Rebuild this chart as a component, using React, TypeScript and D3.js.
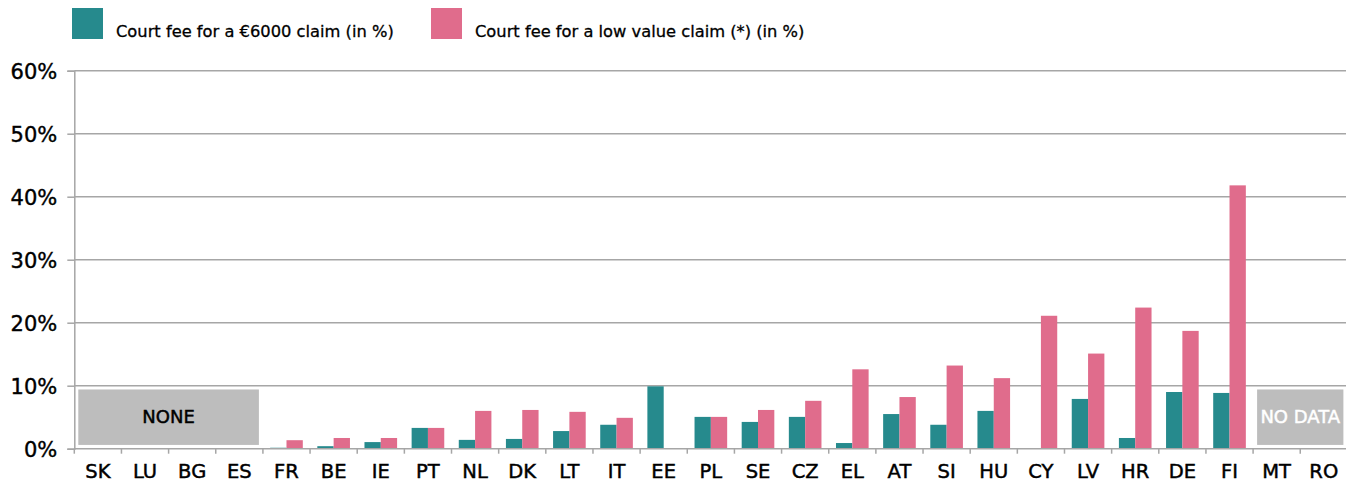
import * as d3 from "d3";
import { useEffect, useRef } from "react";

// Member states, in chart order
const countries = [
  "SK", "LU", "BG", "ES", "FR", "BE", "IE", "PT", "NL", "DK", "LT", "IT", "EE", "PL",
  "SE", "CZ", "EL", "AT", "SI", "HU", "CY", "LV", "HR", "DE", "FI", "MT", "RO",
];

// Court fee for a €6000 claim (in %) - null where there is no fee / no data
const fee6000 = [
  null, null, null, null, 0.15, 0.4, 1.05, 3.3, 1.4, 1.55, 2.8, 3.8, 9.9, 5.05,
  4.25, 5.05, 0.9, 5.5, 3.8, 6.0, 0, 7.9, 1.7, 9.0, 8.85, null, null,
];

// Court fee for a low value claim (*) (in %)
const feeLow = [
  null, null, null, null, 1.35, 1.7, 1.7, 3.3, 6.0, 6.15, 5.85, 4.9, 0, 5.05,
  6.15, 7.6, 12.6, 8.2, 13.2, 11.2, 21.1, 15.1, 22.4, 18.7, 41.8, null, null,
];

const yTicks = [0, 10, 20, 30, 40, 50, 60];

const seriesNames = ["Court fee for a €6000 claim (in %)", "Court fee for a low value claim (*) (in %)"];
const seriesColors = ["#268a8d", "#e06c8c"];

// Grey boxes spanning countries without values
const noteBoxes = [
  { from: "SK", to: "ES", label: "NONE", color: "#000" },
  { from: "MT", to: "RO", label: "NO DATA", color: "#fff" },
];

const App = () => {
  const ref = useRef<SVGSVGElement>(null);

  useEffect(() => {
    const W = 1346, H = 483;
    const left = 74.3, right = 1347.4, top = 70.7, bottom = 448.7;
    const font = "'DejaVu Sans', sans-serif";

    const svg = d3.select(ref.current);
    svg.selectAll("*").remove();
    svg.attr("width", W).attr("height", H);

    const x0 = d3.scaleBand().domain(countries).range([left, right]).padding(0);
    const x1 = d3.scaleBand().domain(["a", "b"]).range([0, x0.bandwidth()]).paddingInner(0).paddingOuter(0.445);
    const y = d3.scaleLinear().domain([0, 60]).range([bottom, top]);

    // slightly heavier text, like the original's medium-weight face
    const heavy = (sel: any, color: string, w = 0.35) =>
      sel.attr("fill", color).attr("stroke", color).attr("stroke-width", w).style("font-family", font);

    // Gridlines
    svg.append("g")
      .selectAll("line")
      .data(yTicks.slice(1))
      .join("line")
      .attr("x1", left).attr("x2", W)
      .attr("y1", (d) => y(d)).attr("y2", (d) => y(d))
      .attr("stroke", "#a6a6a6").attr("stroke-width", 1.5);

    // Y axis
    const yAxis = svg.append("g")
      .attr("transform", `translate(${left},0)`)
      .call(d3.axisLeft(y).tickValues(yTicks).tickSize(7).tickFormat((d) => `${d}%`));
    yAxis.select(".domain").attr("stroke", "#a6a6a6").attr("stroke-width", 1.5);
    yAxis.selectAll(".tick line").attr("stroke", "#a6a6a6").attr("stroke-width", 1.5);
    heavy(yAxis.selectAll(".tick text")
      .attr("x", -17).attr("dy", "0.36em")
      .style("font-size", "21px"), "#000", 0.4);

    // Note boxes
    noteBoxes.forEach((b) => {
      const bx = (x0(b.from) as number) + 4;
      const bx2 = (x0(b.to) as number) + x0.bandwidth() - 4;
      svg.append("rect")
        .attr("x", bx).attr("y", y(9.4))
        .attr("width", bx2 - bx).attr("height", y(0.6) - y(9.4))
        .attr("fill", "#bdbdbd");
      heavy(svg.append("text")
        .attr("x", Math.min((bx + bx2) / 2, (bx + W) / 2)).attr("y", y(5) + 6)
        .attr("text-anchor", "middle")
        .style("font-size", "18px")
        .text(b.label), b.color, 0.45);
    });

    // Bars
    const series = [fee6000, feeLow];
    series.forEach((vals, si) => {
      svg.append("g")
        .selectAll("rect")
        .data(countries.map((c, i) => ({ c, v: vals[i] })).filter((d) => d.v))
        .join("rect")
        .attr("x", (d) => (x0(d.c) as number) + (x1(si ? "b" : "a") as number))
        .attr("width", x1.bandwidth())
        .attr("y", (d) => y(d.v as number))
        .attr("height", (d) => bottom - y(d.v as number))
        .attr("fill", seriesColors[si]);
    });

    // X axis
    svg.append("line")
      .attr("x1", left).attr("x2", W).attr("y1", bottom).attr("y2", bottom)
      .attr("stroke", "#a6a6a6").attr("stroke-width", 1.5);
    svg.append("g")
      .selectAll("line")
      .data(countries)
      .join("line")
      .attr("x1", (d) => x0(d) as number).attr("x2", (d) => x0(d) as number)
      .attr("y1", bottom).attr("y2", bottom + 5)
      .attr("stroke", "#a6a6a6").attr("stroke-width", 1.5);
    heavy(svg.append("g")
      .selectAll("text")
      .data(countries)
      .join("text")
      .attr("x", (d) => (x0(d) as number) + x0.bandwidth() / 2)
      .attr("y", 478)
      .attr("text-anchor", "middle")
      .style("font-size", "19.5px")
      .text((d) => d), "#000", 0.45);

    // Legend
    const legendX = [72, 431];
    seriesNames.forEach((name, i) => {
      svg.append("rect")
        .attr("x", legendX[i]).attr("y", 8).attr("width", 31).attr("height", 31)
        .attr("fill", seriesColors[i]);
      heavy(svg.append("text")
        .attr("x", legendX[i] + 44).attr("y", 37)
        .style("font-size", "16.3px")
        .text(name), "#000", 0.3);
    });
  }, []);

  return <svg ref={ref} style={{ position: "absolute", left: 0, top: 0 }} />;
};

export default App;
